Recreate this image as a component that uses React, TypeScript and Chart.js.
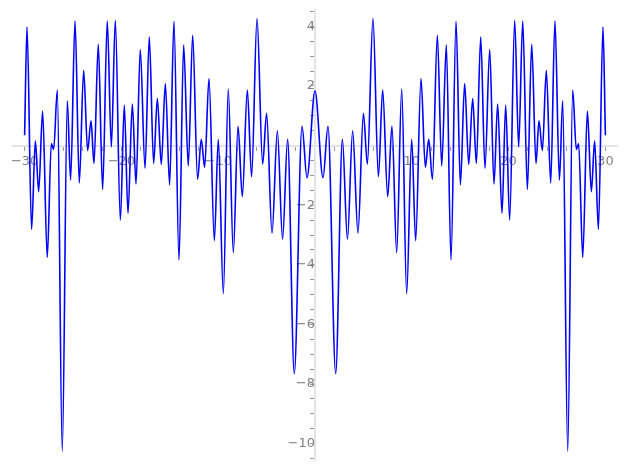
import React, { useEffect, useRef } from 'react';
import { Chart, registerables } from 'chart.js';

Chart.register(...registerables);

// Curve (local extrema), left half x < 0
const leftX = [-30, -29.75, -29.28, -28.89, -28.55, -28.14, -27.66, -27.24, -27.0, -26.62, -26.11, -25.59, -25.25, -24.79, -24.35, -23.9, -23.49, -23.14, -22.83, -22.39, -21.94, -21.46, -21.04, -20.63, -20.11, -19.7, -19.32, -18.87, -18.49, -18.05, -17.56, -17.12, -16.67, -16.29, -15.88, -15.46, -15.02, -14.57, -14.05, -13.57, -13.09, -12.64, -12.13, -11.75, -11.4, -10.95, -10.4, -9.99, -9.47, -8.96, -8.44, -7.95, -7.51, -6.99, -6.55, -5.99, -5.41, -5.0, -4.44, -3.89, -3.35, -2.83, -2.14, -1.34, -0.83];
const leftY = [0.35, 3.98, -2.81, 0.16, -1.55, 1.16, -3.75, 0.07, -0.13, 1.86, -10.26, 1.5, -1.16, 4.18, -1.25, 2.53, -0.17, 0.83, -0.6, 3.4, -1.47, 4.18, -0.04, 4.2, -2.5, 1.36, -2.27, 1.39, -1.29, 3.22, -0.76, 3.64, -0.6, 1.58, -0.63, 2.08, -1.32, 4.17, -3.84, 3.37, -0.68, 3.7, -1.13, 0.21, -0.73, 2.25, -3.19, 0.21, -4.97, 1.9, -3.59, 0.65, -1.71, 1.86, -1.04, 4.26, -0.62, 1.08, -2.94, 0.5, -3.14, 0.21, -7.65, 0.65, -1.08];

// right half x >= 0
const rightX = [0, 0.83, 1.34, 2.14, 2.83, 3.35, 3.89, 4.44, 5.0, 5.41, 5.99, 6.55, 6.99, 7.51, 7.95, 8.44, 8.96, 9.47, 9.99, 10.4, 10.95, 11.4, 11.75, 12.13, 12.64, 13.09, 13.57, 14.05, 14.57, 15.02, 15.46, 15.88, 16.29, 16.67, 17.12, 17.56, 18.05, 18.49, 18.87, 19.32, 19.7, 20.11, 20.63, 21.04, 21.46, 21.94, 22.39, 22.83, 23.14, 23.49, 23.9, 24.35, 24.79, 25.25, 25.59, 26.11, 26.62, 27.0, 27.24, 27.66, 28.14, 28.55, 28.89, 29.28, 29.75, 30];
const rightY = [1.84, -1.08, 0.65, -7.65, 0.21, -3.14, 0.5, -2.94, 1.08, -0.62, 4.26, -1.04, 1.86, -1.71, 0.65, -3.59, 1.9, -4.97, 0.21, -3.19, 2.25, -0.73, 0.21, -1.13, 3.7, -0.68, 3.37, -3.84, 4.17, -1.32, 2.08, -0.63, 1.58, -0.6, 3.64, -0.76, 3.22, -1.29, 1.39, -2.27, 1.36, -2.5, 4.2, -0.04, 4.18, -1.47, 3.4, -0.6, 0.83, -0.17, 2.53, -1.25, 4.18, -1.16, 1.5, -10.26, 1.86, -0.13, 0.07, -3.75, 1.16, -1.55, 0.16, -2.81, 3.98, 0.35];

const xRange = [-31.2, 31.2];
const yRange = [-10.55, 4.55];
const xLabelStep = 10;
const xMinorStep = 2;
const yLabelStep = 2;
const yMinorStep = 0.5;

const fmt = (v: number) => (v < 0 ? '\u2212' + Math.abs(v) : String(v));

export default function App() {
  const ref = useRef<HTMLCanvasElement>(null);

  useEffect(() => {
    document.body.style.margin = '0';
    const xs = [...leftX, ...rightX];
    const ys = [...leftY, ...rightY];
    const data = xs.map((x, i) => ({ x, y: ys[i] }));
    const xFont = { family: 'DejaVu Sans', size: 13 };
    const yFont = { family: 'DejaVu Sans', size: 13, lineHeight: 0.3 };
    const chart = new Chart(ref.current as HTMLCanvasElement, {
      type: 'line',
      data: {
        datasets: [
          {
            data,
            borderColor: '#0000ff',
            borderWidth: 1.6,
            pointRadius: 0,
            fill: false,
            cubicInterpolationMode: 'monotone',
          },
        ],
      },
      options: {
        responsive: false,
        animation: false,
        devicePixelRatio: 1,
        layout: { padding: { left: 13, right: 10, top: 10, bottom: 10 } },
        plugins: { legend: { display: false }, tooltip: { enabled: false } },
        scales: {
          x: {
            type: 'linear',
            min: xRange[0],
            max: xRange[1],
            position: { y: 0 } as any,
            border: { color: '#e4e4e4', width: 2 },
            grid: { drawOnChartArea: false, tickLength: 4, tickColor: '#9a9a9a', tickWidth: 1 },
            ticks: {
              stepSize: xMinorStep,
              autoSkip: false,
              includeBounds: false,
              maxRotation: 0,
              padding: 4,
              color: '#808080',
              font: xFont,
              callback: (v: any) => {
                const n = Number(v);
                return n !== 0 && Math.abs(n % xLabelStep) < 1e-9 ? fmt(n) : '';
              },
            },
          },
          y: {
            type: 'linear',
            min: yRange[0],
            max: yRange[1],
            position: { x: 0 } as any,
            border: { color: '#e4e4e4', width: 2 },
            grid: { drawOnChartArea: false, tickLength: 4, tickColor: '#9a9a9a', tickWidth: 1 },
            ticks: {
              stepSize: yMinorStep,
              autoSkip: false,
              includeBounds: false,
              padding: 7,
              color: '#808080',
              font: yFont,
              callback: (v: any) => {
                const n = Number(v);
                return n !== 0 && Math.abs(n % yLabelStep) < 1e-9 ? fmt(n) : '';
              },
            },
          },
        },
      },
    });
    return () => chart.destroy();
  }, []);

  return (
    <div style={{ position: 'absolute', left: 0, top: 0, width: 627, height: 470 }}>
      <canvas ref={ref} width={627} height={470} style={{ display: 'block' }} />
    </div>
  );
}
